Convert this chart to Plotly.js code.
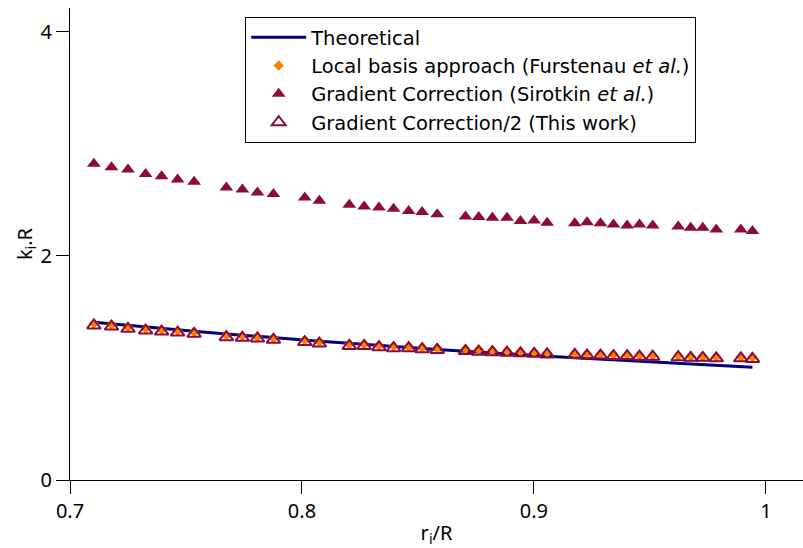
<!DOCTYPE html>
<html>
<head>
<meta charset="utf-8">
<script src="https://cdn.plot.ly/plotly-3.0.1.min.js"></script>
<style>html,body{margin:0;padding:0;background:#fff;}#chart{width:803px;height:548px;}</style>
</head>
<body>
<div id="chart"></div>
<script>
// r_i / R positions
var rRatio = [0.7103,0.7179,0.7250,0.7326,0.7395,0.7464,0.7535,0.7674,0.7743,0.7808,
              0.7877,0.8012,0.8075,0.8204,0.8268,0.8332,0.8395,0.8460,0.8518,0.8583,
              0.8705,0.8762,0.8821,0.8884,0.8942,0.9001,0.9057,0.9176,0.9229,0.9287,
              0.9343,0.9402,0.9455,0.9512,0.9622,0.9676,0.9728,0.9786,0.9892,0.9942];
// Theoretical curve
var theoretical = [1.408,1.393,1.379,1.365,1.352,1.340,1.327,1.303,1.291,1.281,
                   1.270,1.248,1.238,1.219,1.209,1.200,1.191,1.182,1.174,1.165,
                   1.149,1.141,1.134,1.126,1.118,1.111,1.104,1.090,1.084,1.077,
                   1.070,1.064,1.058,1.051,1.039,1.033,1.028,1.022,1.011,1.006];
// Local basis approach (Furstenau et al.)
var localBasis = [1.395,1.385,1.365,1.350,1.340,1.330,1.320,1.290,1.284,1.276,
                  1.266,1.246,1.234,1.212,1.210,1.200,1.192,1.190,1.182,1.176,
                  1.168,1.162,1.156,1.150,1.145,1.140,1.135,1.130,1.126,1.124,
                  1.120,1.118,1.114,1.112,1.108,1.104,1.102,1.098,1.097,1.094];
// Gradient Correction (Sirotkin et al.)
var gradCorr = [2.82,2.79,2.77,2.73,2.71,2.68,2.66,2.61,2.59,2.565,
                2.55,2.52,2.49,2.455,2.44,2.43,2.42,2.40,2.39,2.37,
                2.35,2.345,2.34,2.34,2.31,2.315,2.295,2.29,2.30,2.29,
                2.28,2.27,2.28,2.27,2.26,2.25,2.25,2.235,2.235,2.22];
// Gradient Correction/2 (This work)
var gradCorrHalf = [1.378,1.369,1.348,1.333,1.324,1.315,1.304,1.274,1.268,1.262,
                    1.250,1.230,1.217,1.196,1.196,1.185,1.176,1.176,1.167,1.160,
                    1.150,1.145,1.140,1.135,1.130,1.125,1.120,1.115,1.110,1.110,
                    1.105,1.105,1.100,1.100,1.095,1.090,1.090,1.085,1.085,1.080];

var names = ['Theoretical',
             'Local basis approach (Furstenau <i>et al.</i>)',
             'Gradient Correction (Sirotkin <i>et al.</i>)',
             'Gradient Correction/2 (This work)'];
var xTicks = [0.7,0.8,0.9,1];
var xTickText = ['0.7','0.8','0.9','1'];
var yTicks = [0,2,4];
var yTickText = ['0','2','4'];

var traces = [
  {x: rRatio, y: theoretical, mode: 'lines', name: names[0],
   line: {color: '#00007f', width: 3}},
  {x: rRatio, y: localBasis, mode: 'markers', name: names[1],
   marker: {symbol: 'diamond', size: 8, color: '#ff8000'}},
  {x: rRatio, y: gradCorr, mode: 'markers', name: names[2],
   marker: {symbol: 'triangle-up', size: 12, color: '#8c0a3c'}},
  {x: rRatio, y: gradCorrHalf, mode: 'markers', name: names[3],
   marker: {symbol: 'triangle-up-open', size: 12, color: '#8c0a3c', line: {width: 2}}}
];

var font = "'Noto Sans', 'DejaVu Sans', sans-serif";
var legFont = "'DejaVu Sans', 'Noto Sans', sans-serif";
var layout = {
  width: 803, height: 548,
  margin: {l: 70, r: 0, t: 8, b: 68},
  paper_bgcolor: '#fff', plot_bgcolor: '#fff',
  font: {family: font, size: 20, color: '#000'},
  showlegend: true,
  legend: {x: 0.239, y: 0.981, xanchor: 'left', yanchor: 'top',
           bordercolor: '#000', borderwidth: 1, bgcolor: '#fff',
           font: {family: legFont, size: 19.5, color: '#000'},
           tracegroupgap: 0, itemwidth: 55},
  xaxis: {range: [0.7, 1.016], tickvals: xTicks, ticktext: xTickText,
          showgrid: false, zeroline: false, showline: true, linecolor: '#000', linewidth: 1,
          ticks: 'outside', ticklen: 13, tickcolor: '#000', tickwidth: 1,
          tickfont: {family: font, size: 20}, title: {text: 'r<sub>i</sub>/R', font: {family: font, size: 20}, standoff: 4}},
  yaxis: {range: [0, 4.21], tickvals: yTicks, ticktext: yTickText,
          showgrid: false, zeroline: false, showline: true, linecolor: '#000', linewidth: 1,
          ticks: 'outside', ticklen: 13, tickcolor: '#000', tickwidth: 1,
          tickfont: {family: font, size: 20}, title: {text: 'k<sub>i</sub>.R', font: {family: font, size: 20}, standoff: 2}}
};
Plotly.newPlot('chart', traces, layout, {displayModeBar: false, staticPlot: true});
</script>
</body>
</html>
